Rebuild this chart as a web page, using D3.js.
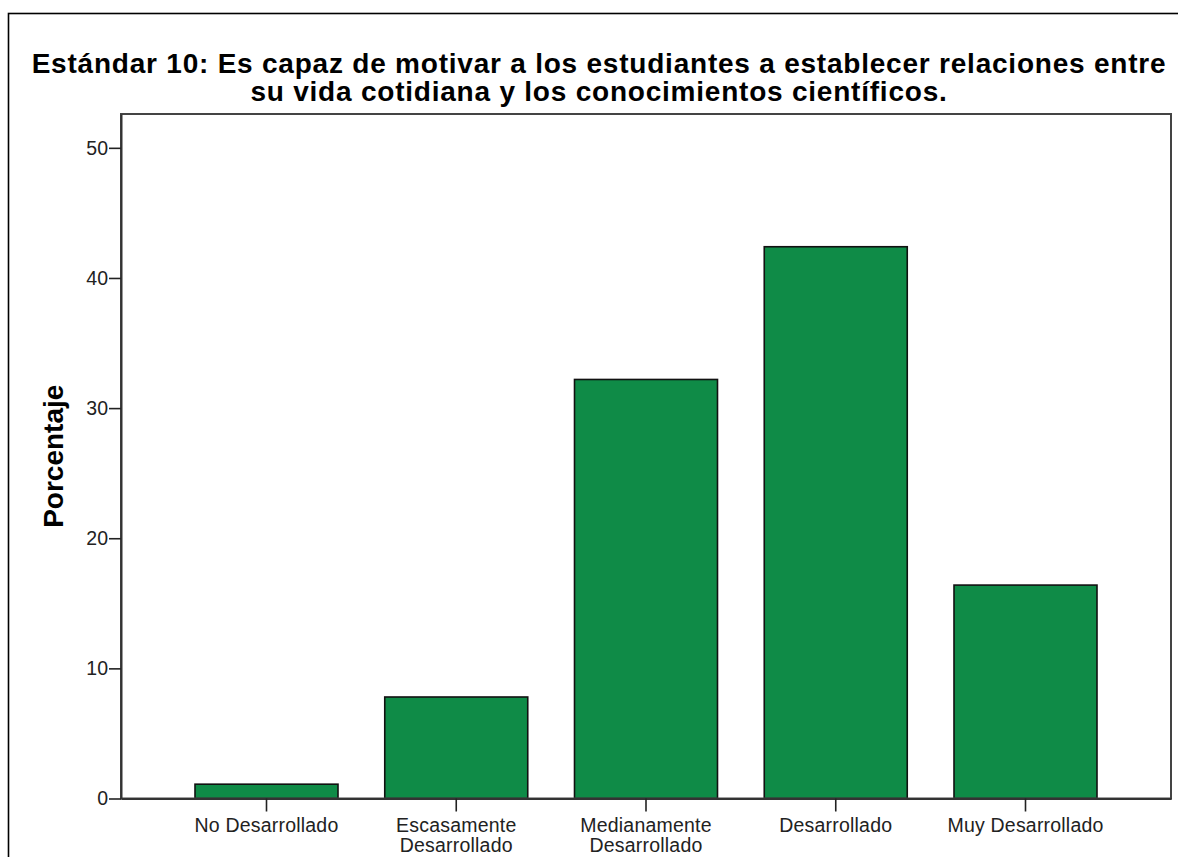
<!DOCTYPE html>
<html>
<head>
<meta charset="utf-8">
<script src="https://cdn.jsdelivr.net/npm/d3@7"></script>
<style>
  html, body { margin: 0; padding: 0; background: #fff; }
  svg { display: block; }
  text { font-family: "Liberation Sans", Arial, sans-serif; }
</style>
</head>
<body>
<script>
// ---- data ----
const categories = [
  ["No Desarrollado"],
  ["Escasamente", "Desarrollado"],
  ["Medianamente", "Desarrollado"],
  ["Desarrollado"],
  ["Muy Desarrollado"]
];
const categoryKeys = ["No Desarrollado", "Escasamente Desarrollado", "Medianamente Desarrollado", "Desarrollado", "Muy Desarrollado"];
const values = [1.1, 7.8, 32.2, 42.4, 16.4];
const yTicks = [0, 10, 20, 30, 40, 50];
const titleLines = [
  "Estándar 10: Es capaz de motivar a los estudiantes a establecer relaciones entre",
  "su vida cotidiana y los conocimientos científicos."
];
const yLabel = "Porcentaje";

// ---- layout ----
const W = 1178, H = 857;
const plot = { left: 121, right: 1171, top: 114, bottom: 798.5 };

const svg = d3.select("body").append("svg").attr("width", W).attr("height", H);

// outer frame
svg.append("rect")
  .attr("x", 8.5).attr("y", 13.5)
  .attr("width", W + 50).attr("height", H + 50)
  .attr("fill", "none").attr("stroke", "#000").attr("stroke-width", 1.6);

// title
const title = svg.append("text")
  .attr("text-anchor", "middle")
  .attr("font-weight", "bold")
  .attr("font-size", 28)
  .attr("letter-spacing", 0.78)
  .attr("fill", "#000");
titleLines.forEach((t, i) => {
  title.append("tspan").attr("x", 599).attr("y", 73 + i * 28).text(t);
});

const x = d3.scaleBand()
  .domain(categoryKeys)
  .range([plot.left, plot.right])
  .paddingInner(0.2464)
  .paddingOuter(0.39);

const y = d3.scaleLinear()
  .domain([0, 52.6])
  .range([plot.bottom, plot.top]);

// bars
svg.append("g").selectAll("rect")
  .data(values)
  .join("rect")
  .attr("x", (d, i) => x(categoryKeys[i]))
  .attr("y", d => y(d))
  .attr("width", x.bandwidth())
  .attr("height", d => y(0) - y(d))
  .attr("fill", "#0f8b47")
  .attr("stroke", "#111")
  .attr("stroke-width", 1.6);

// plot frame
svg.append("rect")
  .attr("x", plot.left).attr("y", plot.top)
  .attr("width", plot.right - plot.left).attr("height", plot.bottom - plot.top)
  .attr("fill", "none").attr("stroke", "#444").attr("stroke-width", 2);

// y axis
const yAxis = svg.append("g")
  .attr("transform", `translate(${plot.left},0)`)
  .call(d3.axisLeft(y).tickValues(yTicks).tickSize(12).tickSizeOuter(0).tickPadding(1).tickFormat(d3.format("d")));
yAxis.select(".domain").attr("stroke", "#333").attr("stroke-width", 2);
yAxis.selectAll(".tick line").attr("stroke", "#222").attr("stroke-width", 1.6);
yAxis.selectAll(".tick text")
  .attr("font-size", 19.5).attr("fill", "#222")
  .attr("font-family", "'Liberation Sans', Arial, sans-serif");

// x axis
const xAxis = svg.append("g")
  .attr("transform", `translate(0,${plot.bottom})`)
  .call(d3.axisBottom(x).tickSize(13).tickSizeOuter(0).tickFormat(""));
xAxis.select(".domain").attr("stroke", "#333").attr("stroke-width", 2);
xAxis.selectAll(".tick line").attr("stroke", "#222").attr("stroke-width", 1.6);
xAxis.selectAll(".tick").each(function(d, i) {
  const t = d3.select(this).append("text")
    .attr("text-anchor", "middle")
    .attr("font-size", 19.5)
    .attr("letter-spacing", 0.2)
    .attr("fill", "#222");
  categories[i].forEach((line, j) => {
    t.append("tspan").attr("x", 0).attr("y", 33 + j * 20).text(line);
  });
});

// y label
svg.append("text")
  .attr("transform", `translate(63,${(plot.top + plot.bottom) / 2}) rotate(-90)`)
  .attr("text-anchor", "middle")
  .attr("font-weight", "bold")
  .attr("font-size", 28)
  .attr("fill", "#000")
  .text(yLabel);
</script>
</body>
</html>
